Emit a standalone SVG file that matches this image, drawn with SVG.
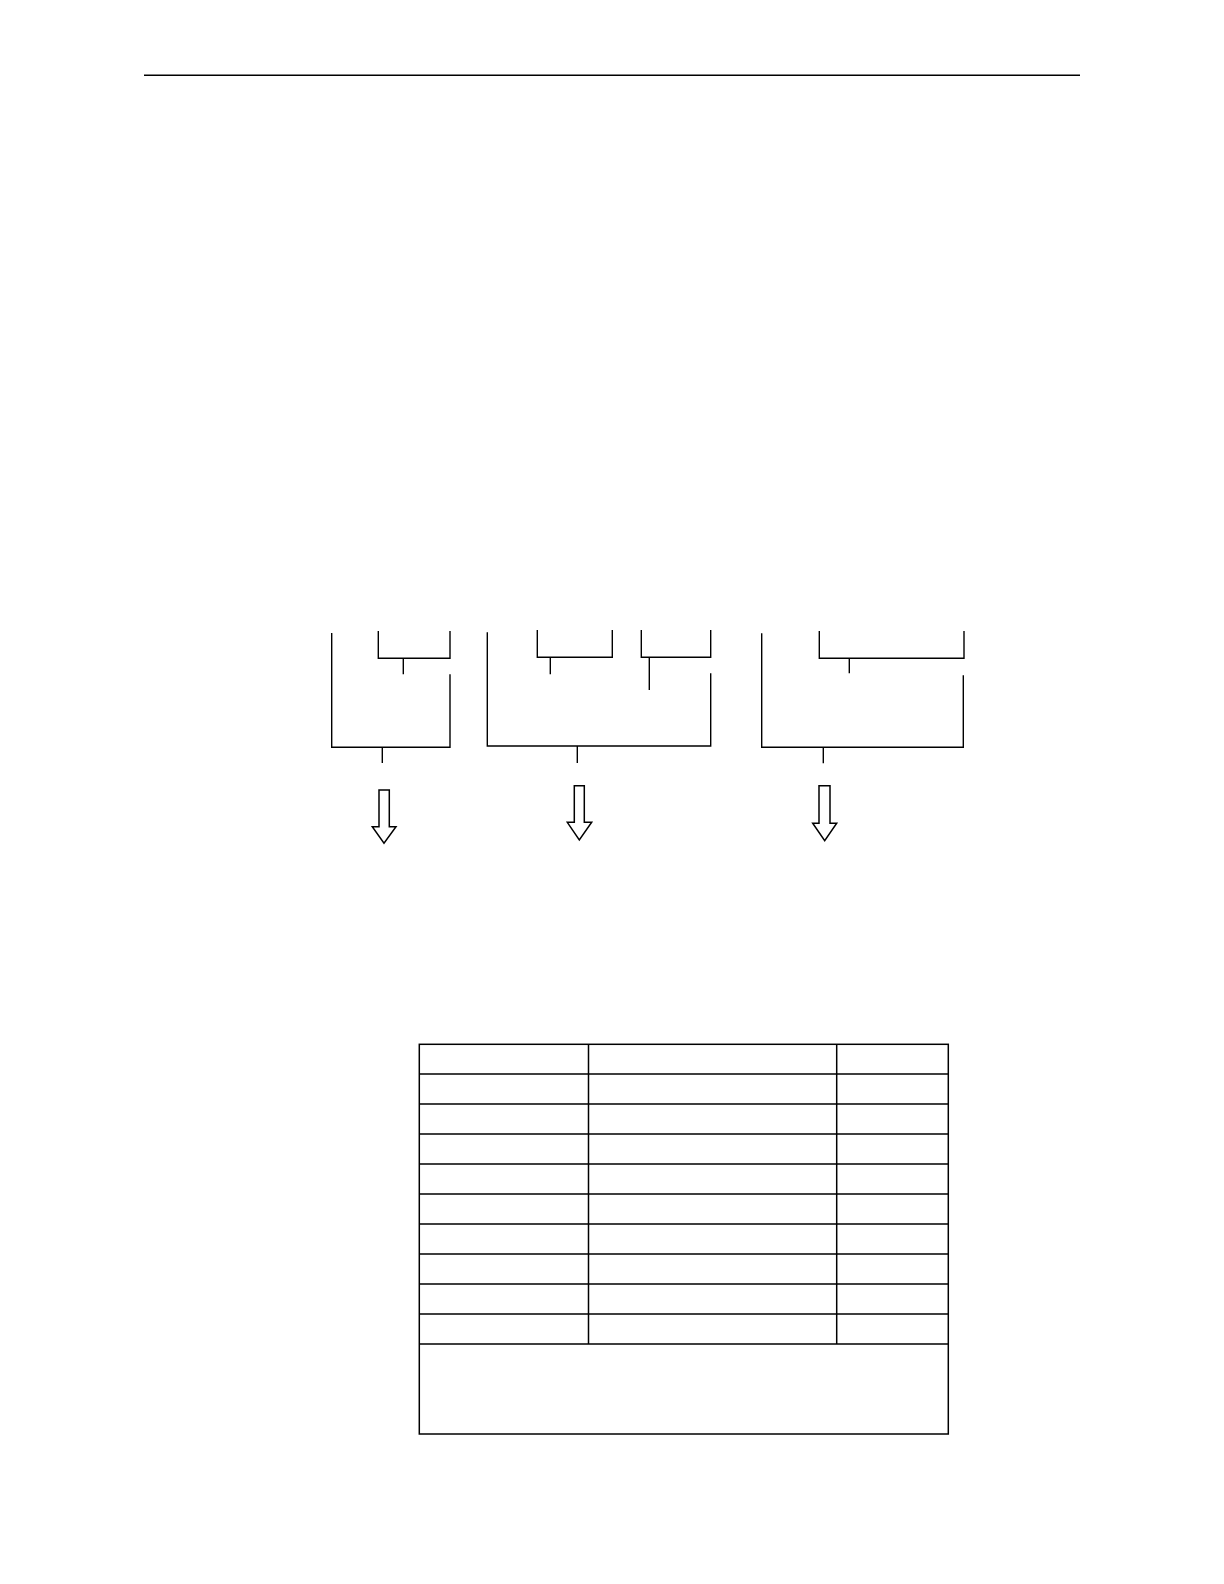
<svg xmlns="http://www.w3.org/2000/svg" width="1224" height="1584" viewBox="0 0 1224 1584">
<style>
.ln{stroke:#000;stroke-width:1.4;fill:none}
.tb{stroke:#000;stroke-width:1.5;fill:none}
.ar{stroke:#000;stroke-width:1.5;fill:#fff;stroke-linejoin:miter}
</style>
<rect width="1224" height="1584" fill="#fff"/>
<line class="tb" x1="144" y1="75.3" x2="1080" y2="75.3"/>
<g id="connectors">
<g id="group1">
<path class="ln" d="M331.7,633 V747.3 H450 V674.3"/>
<path class="ln" d="M378.3,631 V658.3 H450 V631"/>
<line class="ln" x1="403.3" y1="658.3" x2="403.3" y2="674.3"/>
<line class="ln" x1="382.3" y1="747.3" x2="382.3" y2="763"/>
</g>
<g id="group2">
<path class="ln" d="M487.3,632.3 V746 H710.7 V673.3"/>
<path class="ln" d="M537.3,630 V657.3 H612.3 V630"/>
<path class="ln" d="M641.3,630 V657.3 H710.7 V630"/>
<line class="ln" x1="550.3" y1="657.3" x2="550.3" y2="674.3"/>
<line class="ln" x1="649.3" y1="657.3" x2="649.3" y2="690"/>
<line class="ln" x1="577.3" y1="746" x2="577.3" y2="763"/>
</g>
<g id="group3">
<path class="ln" d="M761.7,633.3 V747.3 H963.3 V675.3"/>
<path class="ln" d="M819.3,631 V658.3 H964 V631"/>
<line class="ln" x1="849.3" y1="658.3" x2="849.3" y2="673.3"/>
<line class="ln" x1="823.3" y1="747.3" x2="823.3" y2="763.3"/>
</g>
</g>
<g id="arrow1"><path class="ar" d="M379,790 H389.3 V826.7 H396 L384,843.3 L372.3,826.7 H379 Z"/></g>
<g id="arrow2"><path class="ar" d="M574.3,785.7 H584.3 V822.3 H591.7 L579.3,840 L567.3,822.3 H574.3 Z"/></g>
<g id="arrow3"><path class="ar" d="M819,785.7 H830 V823.3 H836.7 L824.7,840.7 L812.7,823.3 H819 Z"/></g>
<g id="table">
<rect class="tb" x="419.3" y="1044.3" width="529" height="389.7"/>
<path class="tb" d="M419.3,1074 H948.3 M419.3,1104 H948.3 M419.3,1134 H948.3 M419.3,1164 H948.3 M419.3,1194 H948.3 M419.3,1224 H948.3 M419.3,1254 H948.3 M419.3,1284 H948.3 M419.3,1314 H948.3 M419.3,1344 H948.3"/>
<path class="tb" d="M588.5,1044.3 V1344 M836.7,1044.3 V1344"/>
</g>
</svg>
